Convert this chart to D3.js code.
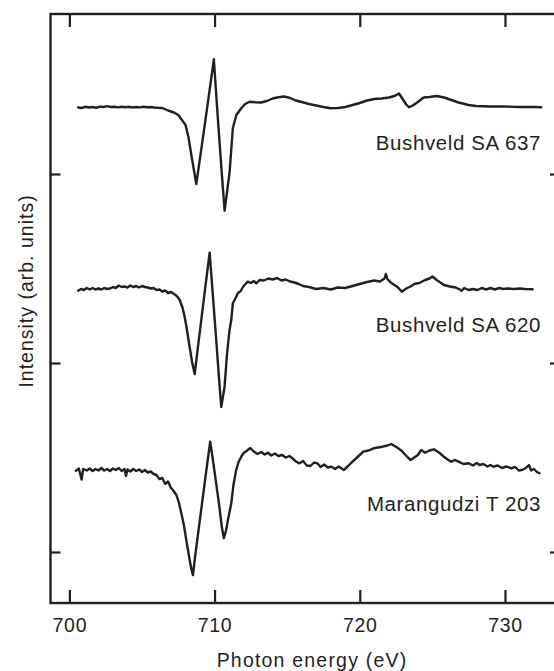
<!DOCTYPE html>
<html>
<head>
<meta charset="utf-8">
<script src="https://cdn.jsdelivr.net/npm/d3@7"></script>
<style>
  html, body { margin: 0; padding: 0; background: #fff; }
  svg { display: block; }
  text { font-family: "Liberation Sans", Arial, Helvetica, sans-serif; fill: #231f20; }
</style>
</head>
<body>
<svg id="chart" width="554" height="671"></svg>
<script>
// ---------- data ----------
const seriesLabels = ["Bushveld SA 637", "Bushveld SA 620", "Marangudzi T 203"];
const xTicks = [700, 710, 720, 730];
const yTicks = [5.1, 24.0, 42.9];   // unlabelled intensity ticks (arb. units)

const energy1 = [700.6,700.85,701.1,701.35,701.6,701.85,702.1,702.35,702.6,702.85,703.1,703.35,703.6,703.85,704.1,704.35,704.6,704.85,705.1,705.35,705.6,705.85,706.1,706.4,706.8,707.2,707.5,707.8,708.0,708.2,708.4,708.6,708.74,709.0,709.25,709.5,709.75,709.95,710.2,710.45,710.69,711.03,711.26,711.5,711.84,712.1,712.41,712.8,713.2,713.6,714.0,714.4,714.8,715.2,715.6,716.0,716.5,717.0,717.5,718.0,718.5,719.0,719.5,720.0,720.5,721.0,721.5,722.0,722.4,722.7,723.0,723.2,723.4,723.7,724.0,724.4,724.8,725.3,725.8,726.2,726.8,727.5,728.0,729.0,730.0,731.0,732.0,732.5];
const intensity1 = [49.55,49.5,49.62,49.55,49.6,49.52,49.64,49.6,49.68,49.6,49.63,49.56,49.62,49.57,49.62,49.55,49.6,49.56,49.62,49.57,49.6,49.55,49.52,49.5,49.25,49.05,48.8,48.2,47.8,46.6,44.8,43.1,41.9,44.52,47.07,49.63,52.25,54.37,49.0,43.9,39.23,43.0,47.5,48.8,49.47,49.9,50.13,50.08,50.05,50.2,50.45,50.57,50.65,50.5,50.25,50.1,49.9,49.75,49.6,49.47,49.5,49.6,49.8,50.0,50.25,50.4,50.45,50.55,50.7,50.95,50.3,49.85,49.57,49.8,50.1,50.55,50.6,50.7,50.55,50.35,50.05,49.8,49.7,49.65,49.65,49.6,49.6,49.58];

const energy2 = [700.6,700.8,701.0,701.2,701.4,701.6,701.8,702.0,702.2,702.4,702.6,702.8,703.0,703.2,703.4,703.6,703.8,704.0,704.2,704.4,704.6,704.8,705.0,705.2,705.4,705.6,705.8,706.0,706.2,706.4,706.6,706.8,707.0,707.2,707.4,707.6,707.8,707.94,708.1,708.28,708.45,708.63,708.8,709.0,709.25,709.5,709.66,709.9,710.1,710.3,710.46,710.69,710.85,711.03,711.15,711.26,711.45,711.6,711.8,712.0,712.29,712.5,712.7,712.87,713.1,713.4,713.7,714.0,714.3,714.6,714.9,715.2,715.5,715.8,716.1,716.5,717.0,717.5,718.0,718.5,719.0,719.5,720.0,720.5,721.0,721.4,721.7,721.8,721.9,722.2,722.6,722.9,723.2,723.5,723.75,724.1,724.5,724.8,725.0,725.3,725.6,725.8,726.2,726.6,726.9,727.0,727.2,727.5,727.8,728.1,728.4,728.7,729.0,729.3,729.6,729.9,730.2,730.6,731.0,731.4,731.9];
const intensity2 = [31.23,31.4,31.3,31.5,31.35,31.5,31.35,31.45,31.35,31.5,31.4,31.45,31.6,31.5,31.75,31.6,31.65,31.55,31.75,31.6,31.7,31.55,31.7,31.6,31.55,31.45,31.5,31.3,31.35,31.15,31.25,31.0,31.1,30.9,30.7,30.3,29.5,28.63,27.3,25.63,24.1,22.9,24.96,27.31,30.27,33.2,35.03,30.41,26.58,22.62,19.6,21.63,24.8,27.3,28.3,29.97,30.5,30.97,31.2,31.7,32.13,32.0,32.2,31.97,32.3,32.25,32.45,32.35,32.5,32.25,32.35,32.15,32.05,31.9,31.7,31.6,31.4,31.5,31.35,31.55,31.5,31.7,31.9,32.1,32.25,32.15,32.45,32.9,32.4,31.97,31.6,31.13,31.45,31.65,31.9,32.0,32.3,32.45,32.65,32.3,32.0,31.8,31.65,31.55,31.35,31.2,31.5,31.3,31.4,31.3,31.5,31.35,31.5,31.35,31.5,31.4,31.45,31.4,31.45,31.4,31.37];

const energy3 = [700.45,700.65,700.84,700.95,701.2,701.4,701.6,701.8,702.0,702.2,702.4,702.6,702.8,703.0,703.2,703.4,703.6,703.8,703.9,704.0,704.2,704.4,704.6,704.8,705.0,705.2,705.4,705.6,705.8,706.0,706.2,706.4,706.6,706.8,707.0,707.13,707.37,707.55,707.71,707.9,708.05,708.25,708.4,708.51,708.7,708.9,709.1,709.3,709.5,709.7,709.9,710.1,710.3,710.5,710.64,710.8,710.92,711.15,711.3,711.49,711.65,711.84,712.0,712.22,712.46,712.7,712.95,713.2,713.45,713.68,713.9,714.15,714.4,714.65,714.9,715.15,715.36,715.6,715.85,716.1,716.35,716.6,716.85,717.08,717.3,717.55,717.8,718.05,718.3,718.55,718.9,719.2,719.5,719.85,720.24,720.6,720.96,721.25,721.57,721.9,722.17,722.4,722.65,722.9,723.15,723.35,723.5,723.75,724.0,724.23,724.5,724.8,725.1,725.45,725.8,726.05,726.3,726.55,726.8,727.15,727.5,727.8,728.05,728.25,728.5,728.8,729.0,729.2,729.5,729.8,730.1,730.43,730.7,730.95,731.17,731.4,731.65,731.8,732.0,732.2,732.38];
const intensity3 = [13.23,13.45,12.35,13.4,13.25,13.45,13.2,13.4,13.25,13.5,13.25,13.4,13.2,13.45,13.3,13.5,13.2,13.4,12.7,13.35,13.15,13.4,13.2,13.35,13.1,13.3,13.05,13.15,12.9,12.8,12.4,12.5,11.9,12.15,11.5,11.3,10.8,10.0,8.97,7.7,6.3,4.6,3.4,2.8,5.1,7.34,9.56,11.78,14.0,16.13,14.14,12.08,9.95,7.6,6.47,7.3,8.3,9.97,11.8,13.3,14.1,14.63,15.0,15.23,15.5,15.15,14.9,15.1,14.85,15.03,14.75,14.95,14.7,14.8,14.55,14.7,14.47,14.15,13.97,14.2,13.75,13.7,14.05,13.97,13.6,13.85,13.55,13.63,13.4,13.65,13.3,13.7,14.13,14.6,15.13,15.25,15.47,15.55,15.63,15.75,15.9,15.7,15.47,15.2,14.8,14.5,14.3,14.55,14.8,15.3,15.03,15.25,15.37,15.05,14.63,14.35,14.13,14.3,14.13,13.9,13.97,13.75,14.0,13.8,13.9,13.65,13.8,13.63,13.75,13.5,13.65,13.47,13.6,13.25,13.3,13.45,13.8,13.25,13.4,13.1,12.97];

// ---------- layout ----------
const ink = "#231f20";
const plot = { left: 50.5, right: 560, top: 14, bottom: 603 };

const x = d3.scaleLinear().domain([698.7, 733.79]).range([plot.left, plot.right]);
const y = d3.scaleLinear().domain([0, 58.9]).range([plot.bottom, plot.top]);

const svg = d3.select("#chart");

const series = [
  { label: seriesLabels[0], e: energy1, v: intensity1, labelY: 150 },
  { label: seriesLabels[1], e: energy2, v: intensity2, labelY: 332 },
  { label: seriesLabels[2], e: energy3, v: intensity3, labelY: 511 }
];

// axes (ticks inward on all four sides)
const axB = svg.append("g").attr("transform", `translate(0,${plot.bottom})`)
  .call(d3.axisBottom(x).tickValues(xTicks).tickSize(-13).tickPadding(15).tickFormat(d3.format("d")));
const axT = svg.append("g").attr("transform", `translate(0,${plot.top})`)
  .call(d3.axisTop(x).tickValues(xTicks).tickSize(-13).tickFormat(""));
const axL = svg.append("g").attr("transform", `translate(${plot.left},0)`)
  .call(d3.axisLeft(y).tickValues(yTicks).tickSize(-10).tickFormat(""));
const axR = svg.append("g").attr("transform", `translate(${plot.right},0)`)
  .call(d3.axisRight(y).tickValues(yTicks).tickSize(-10).tickFormat(""));

[axB, axT, axL, axR].forEach(g => {
  g.select(".domain").remove();
  g.selectAll(".tick line").attr("stroke", ink).attr("stroke-width", 2.2);
});
axB.selectAll(".tick text")
  .attr("fill", ink)
  .style("font-size", "19.5px")
  .style("letter-spacing", "0.7px")
  .style("font-family", "'Liberation Sans', Arial, sans-serif");

// frame
svg.append("rect")
  .attr("x", plot.left).attr("y", plot.top)
  .attr("width", plot.right - plot.left).attr("height", plot.bottom - plot.top)
  .attr("fill", "none").attr("stroke", ink).attr("stroke-width", 2.4);

// spectra
const line = d3.line().x(d => x(d[0])).y(d => y(d[1]));
series.forEach(s => {
  const pts = s.e.map((e, i) => [e, s.v[i]]);
  svg.append("path")
    .datum(pts)
    .attr("d", line)
    .attr("fill", "none")
    .attr("stroke", ink)
    .attr("stroke-width", 2.4)
    .attr("stroke-linejoin", "round")
    .attr("stroke-linecap", "round");
  svg.append("text")
    .attr("x", 541)
    .attr("y", s.labelY)
    .attr("text-anchor", "end")
    .style("font-size", "20.5px")
    .style("letter-spacing", "0.6px")
    .text(s.label);
});

// axis titles
svg.append("text")
  .attr("x", 312).attr("y", 667)
  .attr("text-anchor", "middle")
  .style("font-size", "19.5px")
  .style("letter-spacing", "1.2px")
  .text("Photon energy (eV)");

svg.append("text")
  .attr("transform", "translate(33,291) rotate(-90)")
  .attr("text-anchor", "middle")
  .style("font-size", "19.5px")
  .style("letter-spacing", "1px")
  .text("Intensity (arb. units)");
</script>
</body>
</html>
